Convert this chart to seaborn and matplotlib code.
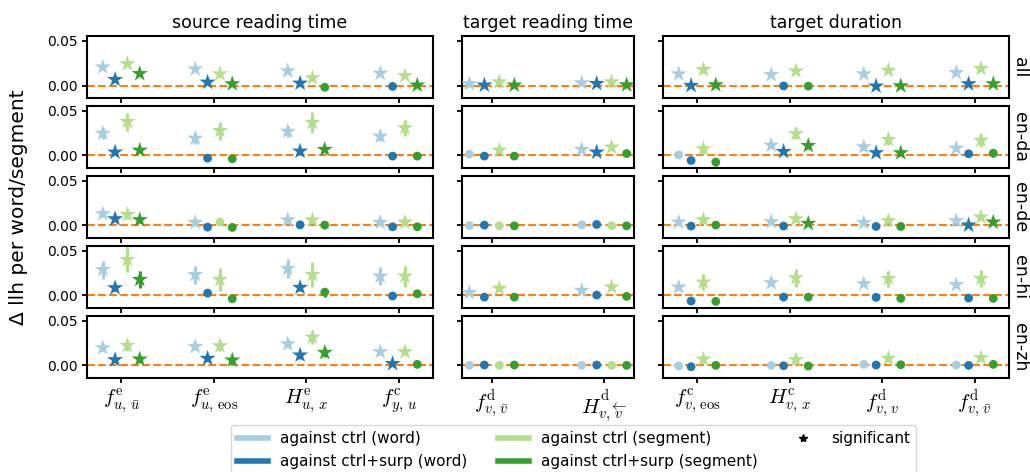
import numpy as np
import pandas as pd
import matplotlib
matplotlib.use("Agg")
import matplotlib.pyplot as plt
from matplotlib.lines import Line2D
from matplotlib.ticker import FormatStrFormatter
import seaborn as sns

plt.rcParams['mathtext.fontset'] = 'cm'
plt.rcParams['axes.linewidth'] = 1.5
plt.rcParams['xtick.major.width'] = 1.3
plt.rcParams['ytick.major.width'] = 1.3

# ---- data ----
pairs = ["all", "en-da", "en-de", "en-hi", "en-zh"]
measures = ["source reading time", "target reading time", "target duration"]
conds = ["against ctrl (word)", "against ctrl+surp (word)",
         "against ctrl (segment)", "against ctrl+surp (segment)"]
colors = ["#a6cee3", "#1f78b4", "#b2df8a", "#33a02c"]

src_labels = [r"$f^{\mathrm{e}}_{u,\,\bar{u}}$", r"$f^{\mathrm{e}}_{u,\,\mathrm{eos}}$",
              r"$H^{\mathrm{e}}_{u,\,x}$", r"$f^{\mathrm{c}}_{y,\,u}$"]
tgt_labels = [r"$f^{\mathrm{d}}_{v,\,\bar{v}}$", r"$H^{\mathrm{d}}_{v,\,\overleftarrow{v}}$"]
dur_labels = [r"$f^{\mathrm{c}}_{v,\,\mathrm{eos}}$", r"$H^{\mathrm{c}}_{v,\,x}$",
              r"$f^{\mathrm{d}}_{v,\,v}$", r"$f^{\mathrm{d}}_{v,\,\bar{v}}$"]

# values [pair][feature][cond]
src_val = [
    [[0.0207, 0.0067, 0.0244, 0.0133], [0.0185, 0.0037, 0.0130, 0.0019],
     [0.0163, 0.0026, 0.0085, -0.0019], [0.0137, -0.0010, 0.0110, 0.0004]],
    [[0.0248, 0.0037, 0.0380, 0.0059], [0.0193, -0.0030, 0.0278, -0.0037],
     [0.0270, 0.0048, 0.0370, 0.0067], [0.0215, -0.0007, 0.0310, -0.0007]],
    [[0.0130, 0.0074, 0.0122, 0.0063], [0.0033, -0.0019, 0.0037, -0.0022],
     [0.0063, 0.0007, 0.0060, 0.0004], [0.0033, -0.0015, 0.0037, -0.0015]],
    [[0.0289, 0.0085, 0.0400, 0.0178], [0.0233, 0.0026, 0.0178, -0.0037],
     [0.0300, 0.0089, 0.0233, 0.0037], [0.0215, -0.0007, 0.0215, 0.0019]],
    [[0.0196, 0.0063, 0.0222, 0.0070], [0.0211, 0.0078, 0.0219, 0.0059],
     [0.0240, 0.0115, 0.0315, 0.0144], [0.0152, 0.0019, 0.0152, 0.0011]],
]
src_err = [
    [[0.002, 0.001, 0.003, 0.002], [0.002, 0.001, 0.003, 0.002],
     [0.002, 0.001, 0.003, 0.002], [0.002, 0.001, 0.003, 0.002]],
    [[0.006, 0.002, 0.010, 0.002], [0.006, 0.002, 0.010, 0.002],
     [0.006, 0.002, 0.012, 0.002], [0.005, 0.001, 0.009, 0.001]],
    [[0.004, 0.002, 0.005, 0.003], [0.002, 0.001, 0.003, 0.001],
     [0.003, 0.001, 0.003, 0.001], [0.002, 0.001, 0.003, 0.001]],
    [[0.010, 0.003, 0.014, 0.009], [0.010, 0.003, 0.013, 0.003],
     [0.011, 0.004, 0.014, 0.005], [0.010, 0.001, 0.012, 0.003]],
    [[0.004, 0.003, 0.006, 0.004], [0.004, 0.003, 0.006, 0.004],
     [0.004, 0.004, 0.007, 0.005], [0.004, 0.002, 0.004, 0.002]],
]
src_sig = [
    [[1, 1, 1, 1], [1, 1, 1, 1], [1, 1, 1, 0], [1, 0, 1, 1]],
    [[1, 1, 1, 1], [1, 0, 1, 0], [1, 1, 1, 1], [1, 0, 1, 0]],
    [[1, 1, 1, 1], [1, 0, 0, 0], [1, 0, 1, 0], [1, 0, 1, 0]],
    [[1, 1, 1, 1], [1, 0, 1, 0], [1, 1, 1, 0], [1, 0, 1, 0]],
    [[1, 1, 1, 1], [1, 1, 1, 1], [1, 1, 1, 1], [1, 1, 1, 0]],
]

tgt_val = [
    [[0.0019, 0.0004, 0.0040, 0.0004], [0.0030, 0.0022, 0.0040, 0.0007]],
    [[0.0015, -0.0007, 0.0059, -0.0007], [0.0067, 0.0037, 0.0093, 0.0022]],
    [[0.0000, 0.0004, -0.0004, -0.0004], [0.0007, 0.0011, -0.0004, -0.0004]],
    [[0.0030, -0.0019, 0.0078, -0.0019], [0.0056, 0.0004, 0.0093, -0.0011]],
    [[0.0000, 0.0004, 0.0000, 0.0004], [0.0000, 0.0004, 0.0000, 0.0000]],
]
tgt_err = [
    [[0.001, 0.001, 0.001, 0.001], [0.001, 0.001, 0.001, 0.001]],
    [[0.001, 0.001, 0.003, 0.001], [0.002, 0.002, 0.003, 0.003]],
    [[0.001, 0.001, 0.001, 0.001], [0.001, 0.001, 0.001, 0.001]],
    [[0.002, 0.001, 0.003, 0.001], [0.002, 0.001, 0.003, 0.001]],
    [[0.001, 0.001, 0.001, 0.001], [0.001, 0.001, 0.001, 0.001]],
]
tgt_sig = [
    [[1, 1, 1, 1], [1, 1, 1, 1]],
    [[0, 0, 1, 0], [1, 1, 1, 0]],
    [[0, 0, 0, 0], [0, 0, 0, 0]],
    [[1, 0, 1, 0], [1, 0, 1, 0]],
    [[0, 0, 0, 0], [0, 0, 0, 0]],
]

dur_val = [
    [[0.0130, 0.0000, 0.0178, 0.0007], [0.0122, -0.0004, 0.0163, -0.0007],
     [0.0130, -0.0007, 0.0170, -0.0004], [0.0144, 0.0019, 0.0189, 0.0019]],
    [[0.0007, -0.0056, 0.0074, -0.0074], [0.0115, 0.0044, 0.0244, 0.0111],
     [0.0096, 0.0030, 0.0178, 0.0030], [0.0081, 0.0019, 0.0170, 0.0026]],
    [[0.0037, -0.0007, 0.0063, 0.0004], [0.0041, -0.0007, 0.0074, 0.0022],
     [0.0030, -0.0011, 0.0052, -0.0011], [0.0052, 0.0004, 0.0093, 0.0037]],
    [[0.0093, -0.0063, 0.0148, -0.0067], [0.0141, -0.0019, 0.0196, -0.0019],
     [0.0130, -0.0022, 0.0189, -0.0033], [0.0119, -0.0030, 0.0189, -0.0033]],
    [[-0.0007, -0.0015, 0.0070, 0.0000], [0.0000, -0.0004, 0.0063, -0.0007],
     [0.0011, 0.0004, 0.0078, 0.0007], [0.0004, 0.0000, 0.0085, 0.0011]],
]
dur_err = [
    [[0.002, 0.001, 0.002, 0.001], [0.002, 0.001, 0.002, 0.001],
     [0.002, 0.001, 0.002, 0.001], [0.002, 0.001, 0.002, 0.001]],
    [[0.004, 0.003, 0.006, 0.004], [0.003, 0.002, 0.006, 0.004],
     [0.003, 0.002, 0.006, 0.004], [0.003, 0.002, 0.007, 0.004]],
    [[0.002, 0.001, 0.004, 0.001], [0.002, 0.001, 0.004, 0.002],
     [0.002, 0.001, 0.003, 0.001], [0.002, 0.001, 0.003, 0.002]],
    [[0.003, 0.002, 0.009, 0.002], [0.003, 0.002, 0.010, 0.002],
     [0.003, 0.002, 0.009, 0.002], [0.003, 0.002, 0.010, 0.002]],
    [[0.002, 0.002, 0.004, 0.002], [0.002, 0.002, 0.004, 0.002],
     [0.002, 0.002, 0.004, 0.002], [0.002, 0.002, 0.004, 0.002]],
]
dur_sig = [
    [[1, 1, 1, 1], [1, 0, 1, 0], [1, 1, 1, 1], [1, 1, 1, 1]],
    [[0, 0, 1, 0], [1, 1, 1, 1], [1, 1, 1, 1], [1, 0, 1, 0]],
    [[1, 0, 1, 0], [1, 0, 1, 1], [1, 0, 1, 0], [1, 1, 1, 1]],
    [[1, 0, 1, 0], [1, 0, 1, 0], [1, 0, 1, 0], [1, 0, 1, 0]],
    [[0, 0, 1, 0], [0, 0, 1, 0], [0, 0, 1, 0], [0, 0, 1, 0]],
]

# dodge offsets of the four conditions within a feature group
offsets = [-0.2, -0.0667, 0.0667, 0.2]

# ---- long table ----
rows = []
for meas, vals, errs, sigs in [(measures[0], src_val, src_err, src_sig),
                               (measures[1], tgt_val, tgt_err, tgt_sig),
                               (measures[2], dur_val, dur_err, dur_sig)]:
    for pi, pair in enumerate(pairs):
        for fi in range(len(vals[pi])):
            for ci, cond in enumerate(conds):
                rows.append(dict(measure=meas, pair=pair, x=fi + offsets[ci], cond=cond,
                                 value=vals[pi][fi][ci], err=errs[pi][fi][ci],
                                 sig="yes" if sigs[pi][fi][ci] else "no"))
df = pd.DataFrame(rows)
palette = dict(zip(conds, colors))


def draw(data, **kws):
    ax = plt.gca()
    ax.axhline(0, color="tab:orange", ls="--", lw=1.5, zorder=0.5)
    for cond, sub in data.groupby("cond"):
        ax.errorbar(sub["x"], sub["value"], yerr=sub["err"], fmt="none",
                    ecolor=palette[cond], elinewidth=2.2, capsize=0, zorder=1)
    sns.scatterplot(data=data, x="x", y="value", hue="cond", hue_order=conds,
                    palette=palette, style="sig", markers={"yes": "*", "no": "o"},
                    size="sig", sizes={"yes": 150, "no": 40}, linewidth=0,
                    legend=False, ax=ax, zorder=3)


g = sns.FacetGrid(df, row="pair", col="measure", row_order=pairs, col_order=measures,
                  sharex=False, sharey=True, margin_titles=True, despine=False,
                  gridspec_kws={"width_ratios": [2, 1, 2]}, height=1, aspect=2)
g.map_dataframe(draw)
g.figure.set_size_inches(10.3, 4.72)
g.figure.subplots_adjust(left=0.0845, right=0.9796, top=0.9237, bottom=0.1985,
                         hspace=0.12, wspace=0.099)
g.set_axis_labels("", "")
g.set_titles(row_template="{row_name}", col_template="{col_name}", size=12.5)

# pull the row labels closer to the right column
for ax in g.axes[:, -1]:
    for t in ax.texts:
        t.set_x(1.006)

# y axis is shared, so ticks and formatter are set once
g.axes[0, 0].set_ylim(-0.0145, 0.0555)
g.axes[0, 0].set_yticks([0.0, 0.05])
g.axes[0, 0].yaxis.set_major_formatter(FormatStrFormatter("%.2f"))

tick_labels = [src_labels, tgt_labels, dur_labels]
for ri in range(len(pairs)):
    for ci in range(len(measures)):
        ax = g.axes[ri, ci]
        ax.tick_params(axis="y", labelsize=10, labelleft=(ci == 0))
        ax.set_xticks(range(len(tick_labels[ci])))
        if ri == len(pairs) - 1:
            ax.set_xticklabels(tick_labels[ci], fontsize=15)
        else:
            ax.set_xticklabels([])

g.figure.text(0.018, 0.56, "Δ llh per word/segment", rotation=90,
              ha="center", va="center", fontsize=14.5)

handles = [Line2D([], [], color=c, lw=4) for c in colors]
handles.append(Line2D([], [], color="k", marker="*", ls="none", markersize=6))
labels = conds + ["significant"]
g.figure.legend(handles, labels, loc="upper center", bbox_to_anchor=(0.557, 0.115),
                ncol=3, fontsize=11, frameon=True)

g.figure.savefig("out.png", dpi=100)
